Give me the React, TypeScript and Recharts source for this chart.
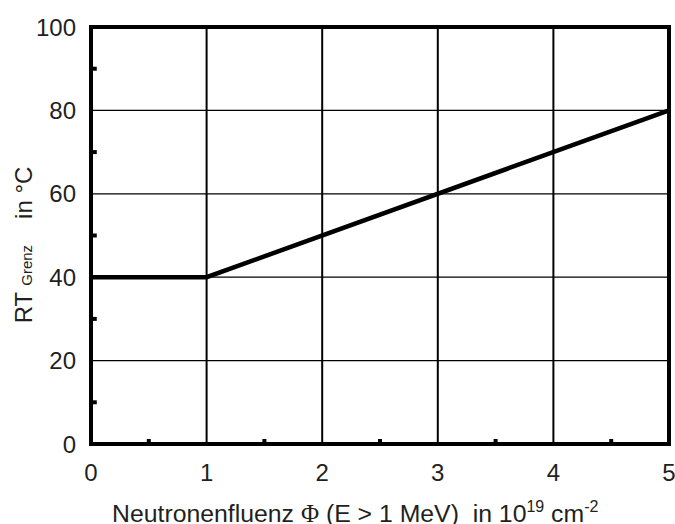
import React from "react";
import {
  CartesianGrid,
  Label,
  Line,
  LineChart,
  ReferenceArea,
  ReferenceLine,
  XAxis,
  YAxis,
} from "recharts";

// Neutron fluence in 10^19 cm^-2 and the resulting RT_Grenz in °C
const fluence = [0, 1, 5];
const rtGrenz = [40, 40, 80];

const xTicks = [0, 1, 2, 3, 4, 5];
const yTicks = [0, 20, 40, 60, 80, 100];
const xMinorTicks = [0.5, 1.5, 2.5, 3.5, 4.5];
const yMinorTicks = [10, 30, 50, 70, 90];

const data = fluence.map((f, i) => ({ f, rt: rtGrenz[i] }));

const FONT = "'Liberation Sans', Arial, sans-serif";
const INK = "#231f20";

function XTitle({ viewBox }: any) {
  const left = viewBox.x + 21;
  return (
    <text x={left} y={522} textAnchor="start" fontFamily={FONT} fontSize={24.8} fill={INK}>
      Neutronenfluenz{" "}
      <tspan fontFamily="'Liberation Serif', 'Times New Roman', serif">Φ</tspan>
      {" (E > 1 MeV)\u00a0\u00a0in 10"}
      <tspan fontSize={16} dy={-10}>19</tspan>
      <tspan dy={10}> cm</tspan>
      <tspan fontSize={16} dy={-10}>-2</tspan>
    </text>
  );
}

function YTitle() {
  return (
    <text
      transform="translate(32 245) rotate(-90)"
      textAnchor="middle"
      fontFamily={FONT}
      fontSize={24}
      fill={INK}
    >
      RT
      <tspan dx={6} fontSize={15}>Grenz</tspan>
      <tspan dx={26}>in °C</tspan>
    </text>
  );
}

export default function App() {
  return (
    <div style={{ position: "absolute", left: 0, top: 0, background: "#fff" }}>
      <LineChart
        width={675}
        height={524}
        data={data}
        margin={{ top: 27, right: 6, left: 0, bottom: 0 }}
      >
        <CartesianGrid horizontal={false} stroke="#000" strokeWidth={2} />
        <CartesianGrid vertical={false} stroke="#000" strokeWidth={1.2} />
        <XAxis
          dataKey="f"
          type="number"
          domain={[0, 5]}
          ticks={xTicks}
          height={80}
          axisLine={false}
          tickLine={false}
          tickSize={0}
          tickMargin={20}
          tick={{ fontSize: 24, fontFamily: FONT, fill: INK }}
        >
          <Label content={<XTitle />} />
        </XAxis>
        <YAxis
          type="number"
          domain={[0, 100]}
          ticks={yTicks}
          width={91}
          axisLine={false}
          tickLine={false}
          tickSize={0}
          tickMargin={15}
          tick={{ fontSize: 24, fontFamily: FONT, fill: INK }}
        >
          <Label content={<YTitle />} />
        </YAxis>
        {xMinorTicks.map((x) => (
          <ReferenceLine
            key={"xm" + x}
            segment={[{ x, y: 0 }, { x, y: 1.2 }]}
            stroke="#000"
            strokeWidth={4}
          />
        ))}
        {yMinorTicks.map((y) => (
          <ReferenceLine
            key={"ym" + y}
            segment={[{ x: 0, y }, { x: 0.05, y }]}
            stroke="#000"
            strokeWidth={4}
          />
        ))}
        <ReferenceArea
          x1={0}
          x2={5}
          y1={0}
          y2={100}
          fill="none"
          stroke="#000"
          strokeWidth={4}
          ifOverflow="visible"
        />
        <Line
          dataKey="rt"
          type="linear"
          stroke="#000"
          strokeWidth={4.5}
          dot={false}
          isAnimationActive={false}
        />
      </LineChart>
    </div>
  );
}
